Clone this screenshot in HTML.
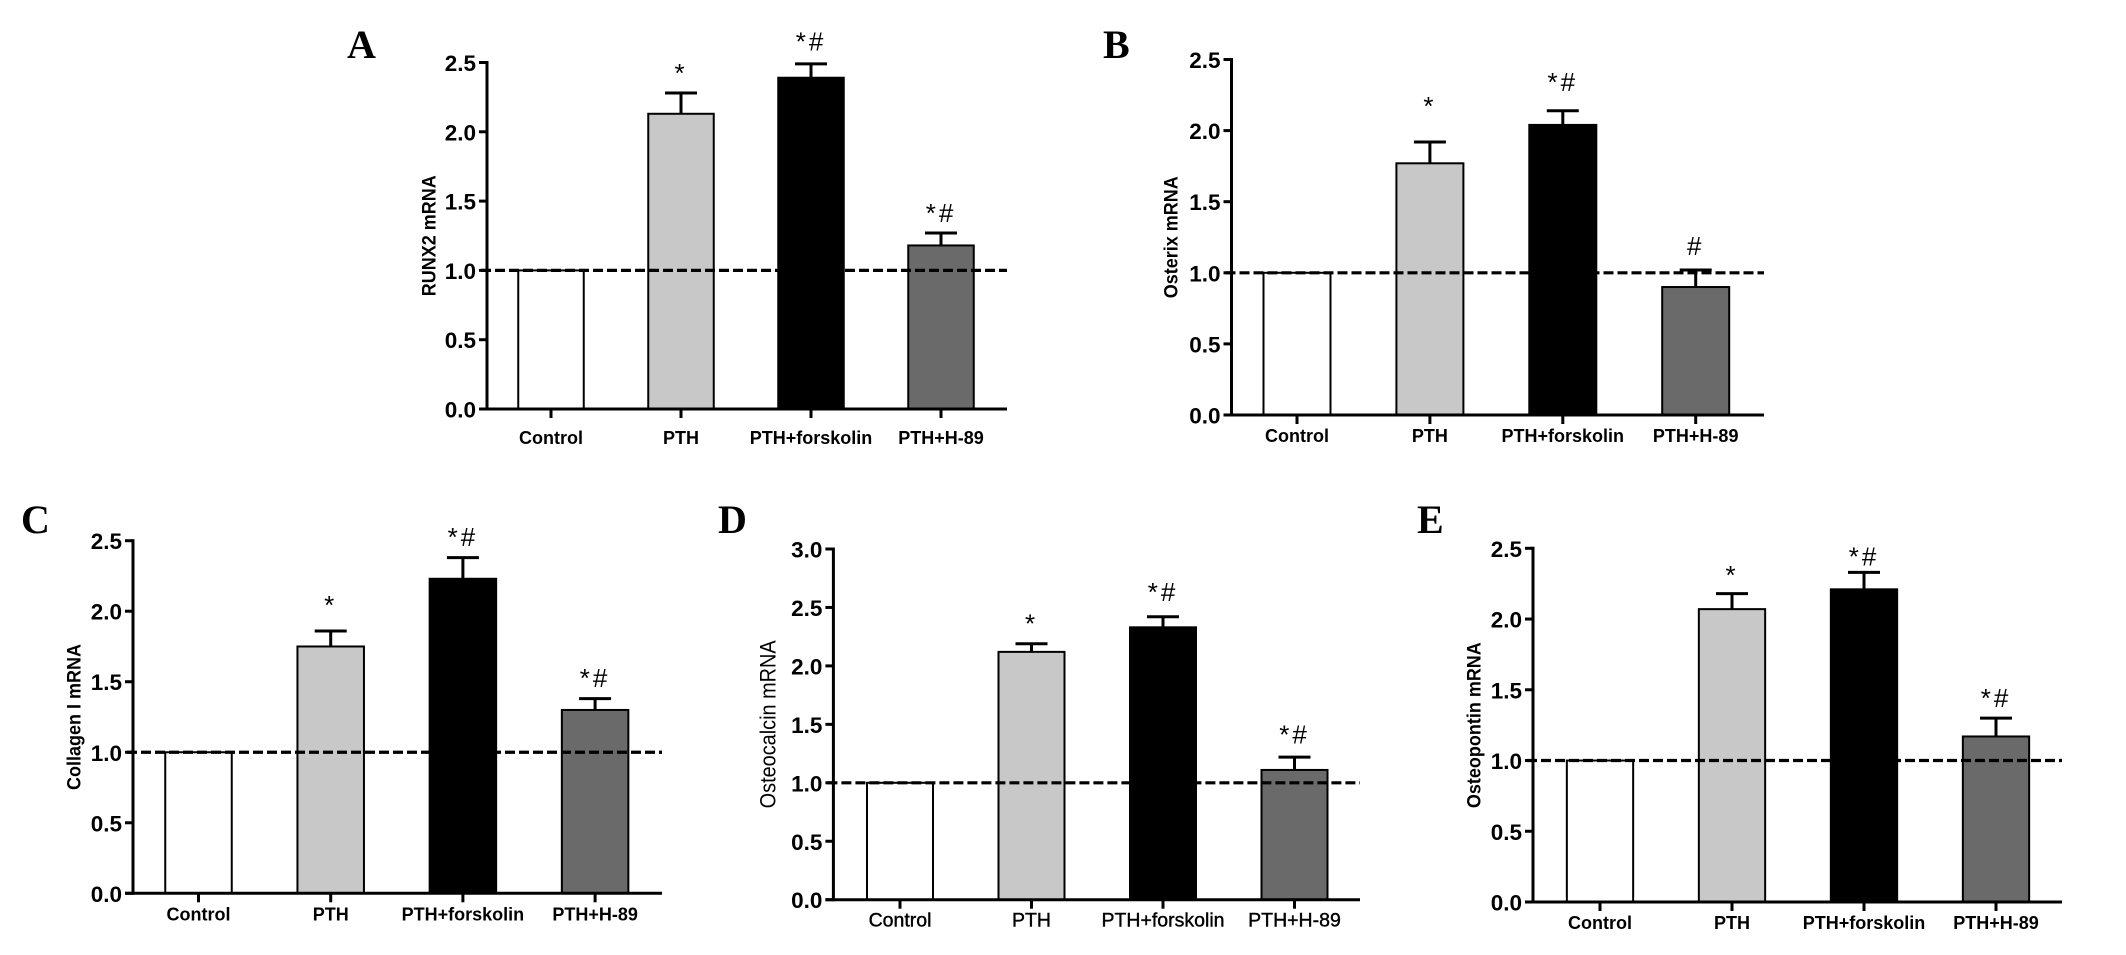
<!DOCTYPE html>
<html lang="en">
<head>
<meta charset="utf-8">
<title>mRNA expression bar charts</title>
<style>
html,body{margin:0;padding:0;background:#fff;width:2126px;height:955px;overflow:hidden}
svg{display:block}
text{fill:#000;font-family:"Liberation Sans",Arial,sans-serif}
</style>
</head>
<body>
<svg id="fig" xmlns="http://www.w3.org/2000/svg" width="2126" height="955" viewBox="0 0 2126 955">
<rect x="0" y="0" width="2126" height="955" fill="#fff"/>
</svg>
<script>
const categories = ['Control', 'PTH', 'PTH+forskolin', 'PTH+H-89'];
const barFills = ['#ffffff', '#c8c8c8', '#000000', '#6a6a6a'];
const ticks25 = ['0.0', '0.5', '1.0', '1.5', '2.0', '2.5'];
const ticks30 = ['0.0', '0.5', '1.0', '1.5', '2.0', '2.5', '3.0'];
const referenceLevel = 1.0;

const runx2Values = [1.0, 2.13, 2.39, 1.18];
const runx2ErrorTops = [null, 2.28, 2.49, 1.27];
const runx2Marks = ['', '*', '*#', '*#'];
const runx2MarkLevels = [null, 2.43, 2.66, 1.42];

const osterixValues = [1.0, 1.77, 2.04, 0.90];
const osterixErrorTops = [null, 1.92, 2.14, 1.02];
const osterixMarks = ['', '*', '*#', '#'];
const osterixMarkLevels = [null, 2.18, 2.35, 1.195];

const collagenValues = [1.0, 1.75, 2.23, 1.30];
const collagenErrorTops = [null, 1.86, 2.38, 1.38];
const collagenMarks = ['', '*', '*#', '*#'];
const collagenMarkLevels = [null, 2.05, 2.535, 1.535];

const osteocalcinValues = [1.0, 2.12, 2.33, 1.11];
const osteocalcinErrorTops = [null, 2.19, 2.42, 1.22];
const osteocalcinMarks = ['', '*', '*#', '*#'];
const osteocalcinMarkLevels = [null, 2.37, 2.64, 1.42];

const osteopontinValues = [1.0, 2.07, 2.21, 1.17];
const osteopontinErrorTops = [null, 2.18, 2.33, 1.30];
const osteopontinMarks = ['', '*', '*#', '*#'];
const osteopontinMarkLevels = [null, 2.32, 2.45, 1.45];

const SVG_NS = 'http://www.w3.org/2000/svg';
const fig = document.getElementById('fig');

function make(parent, tag, attrs, txt) {
  const el = document.createElementNS(SVG_NS, tag);
  for (const k in attrs) el.setAttribute(k, attrs[k]);
  if (txt !== undefined) el.textContent = txt;
  parent.appendChild(el);
  return el;
}

function drawPanel(p) {
  const g = make(fig, 'g', {});
  
  

  const maxV = parseFloat(p.ticks[p.ticks.length - 1]);
  const yScale = v => p.y0 - (v / maxV) * (p.y0 - p.yTop);
  const xScale = i => p.bar0 + i * p.barStep;
  const catWeight = p.light ? 'normal' : 'bold';
  const catStroke = p.light ? 0.4 : 0;

  const letter = make(g, 'text', {x: p.letterX, y: p.letterY, 'font-size': 40, 'font-weight': 'bold', style: 'font-family:"Liberation Serif",serif'}, p.letter);
  
  

  p.values.forEach((v, i) => {
    const bx = xScale(i) - p.barW / 2;
    const bar = make(g, 'rect', {x: bx, y: yScale(v), width: p.barW, height: p.y0 - yScale(v), fill: barFills[i], stroke: '#000', 'stroke-width': 2});
    
    

    if (p.errorTops[i] !== null) {
      const cx = xScale(i);
      const stem = make(g, 'line', {x1: cx, x2: cx, y1: yScale(v), y2: yScale(p.errorTops[i]), stroke: '#000', 'stroke-width': 3});
      
      
      const cap = make(g, 'line', {x1: cx - 16, x2: cx + 16, y1: yScale(p.errorTops[i]), y2: yScale(p.errorTops[i]), stroke: '#000', 'stroke-width': 3});
      
      
    }

    if (p.marks[i]) {
      const mark = make(g, 'text', {x: xScale(i), y: yScale(p.markLevels[i]) + 10, 'text-anchor': 'middle', 'font-size': 26, 'letter-spacing': 3}, p.marks[i]);
      
      
    }

    const tickX = make(g, 'line', {x1: xScale(i), x2: xScale(i), y1: p.y0, y2: p.y0 + 9, stroke: '#000', 'stroke-width': 3});
    
    

    const cat = make(g, 'text', {x: xScale(i), y: p.y0 + p.catGap, 'text-anchor': 'middle', 'font-size': p.light ? 19.5 : 18, 'font-weight': catWeight, stroke: '#000', 'stroke-width': catStroke}, categories[i]);
    
    
  });

  const yAxis = make(g, 'line', {x1: p.axisX, x2: p.axisX, y1: p.yTop - 1.5, y2: p.y0 + 1.5, stroke: '#000', 'stroke-width': 3});
  
  

  const xAxis = make(g, 'line', {x1: p.axisX - 8, x2: p.xEnd, y1: p.y0, y2: p.y0, stroke: '#000', 'stroke-width': 3});
  
  

  p.ticks.forEach(t => {
    const ty = yScale(parseFloat(t));
    const tick = make(g, 'line', {x1: p.axisX - 8, x2: p.axisX, y1: ty, y2: ty, stroke: '#000', 'stroke-width': 3});
    
    
    const lab = make(g, 'text', {x: p.axisX - 11, y: ty + 8.5, 'text-anchor': 'end', 'font-size': 22.5, 'font-weight': 'bold'}, t);
    
    
  });

  const midY = (p.y0 + p.yTop) / 2;
  const title = make(g, 'text', {transform: 'translate(' + p.titleX + ',' + midY + ') rotate(-90) scale(1,1.1)', 'text-anchor': 'middle', y: 7, 'font-size': p.light ? 19.9 : 18, 'font-weight': catWeight}, p.title);
  
  

  const ref = make(g, 'line', {x1: p.axisX - 6, x2: p.xEnd, y1: yScale(referenceLevel), y2: yScale(referenceLevel), stroke: '#000', 'stroke-width': 3.2, 'stroke-dasharray': '10 4'});
  
  
}

drawPanel({letter: 'A', letterX: 347, letterY: 58, title: 'RUNX2 mRNA', ticks: ticks25, values: runx2Values, errorTops: runx2ErrorTops, marks: runx2Marks, markLevels: runx2MarkLevels,
  axisX: 487, y0: 409, yTop: 62.5, bar0: 551, barStep: 130, barW: 65.5, xEnd: 1007, catGap: 35, titleX: 428});
drawPanel({letter: 'B', letterX: 1103, letterY: 58, title: 'Osterix mRNA', ticks: ticks25, values: osterixValues, errorTops: osterixErrorTops, marks: osterixMarks, markLevels: osterixMarkLevels,
  axisX: 1231.5, y0: 415, yTop: 59.5, bar0: 1297, barStep: 132.9, barW: 67, xEnd: 1764, catGap: 27, titleX: 1170});
drawPanel({letter: 'C', letterX: 21, letterY: 533, title: 'Collagen I mRNA', ticks: ticks25, values: collagenValues, errorTops: collagenErrorTops, marks: collagenMarks, markLevels: collagenMarkLevels,
  axisX: 133, y0: 893.3, yTop: 540.7, bar0: 198.5, barStep: 132.2, barW: 66.5, xEnd: 662, catGap: 27, titleX: 73});
drawPanel({letter: 'D', letterX: 718, letterY: 533, title: 'Osteocalcin mRNA', ticks: ticks30, values: osteocalcinValues, errorTops: osteocalcinErrorTops, marks: osteocalcinMarks, markLevels: osteocalcinMarkLevels, light: true,
  axisX: 833.4, y0: 899.7, yTop: 549, bar0: 900, barStep: 131.5, barW: 66, xEnd: 1360, catGap: 27, titleX: 768});
drawPanel({letter: 'E', letterX: 1417, letterY: 533, title: 'Osteopontin mRNA', ticks: ticks25, values: osteopontinValues, errorTops: osteopontinErrorTops, marks: osteopontinMarks, markLevels: osteopontinMarkLevels,
  axisX: 1533, y0: 902, yTop: 548.3, bar0: 1600, barStep: 132, barW: 66.3, xEnd: 2062, catGap: 27, titleX: 1473});
</script>
</body>
</html>
